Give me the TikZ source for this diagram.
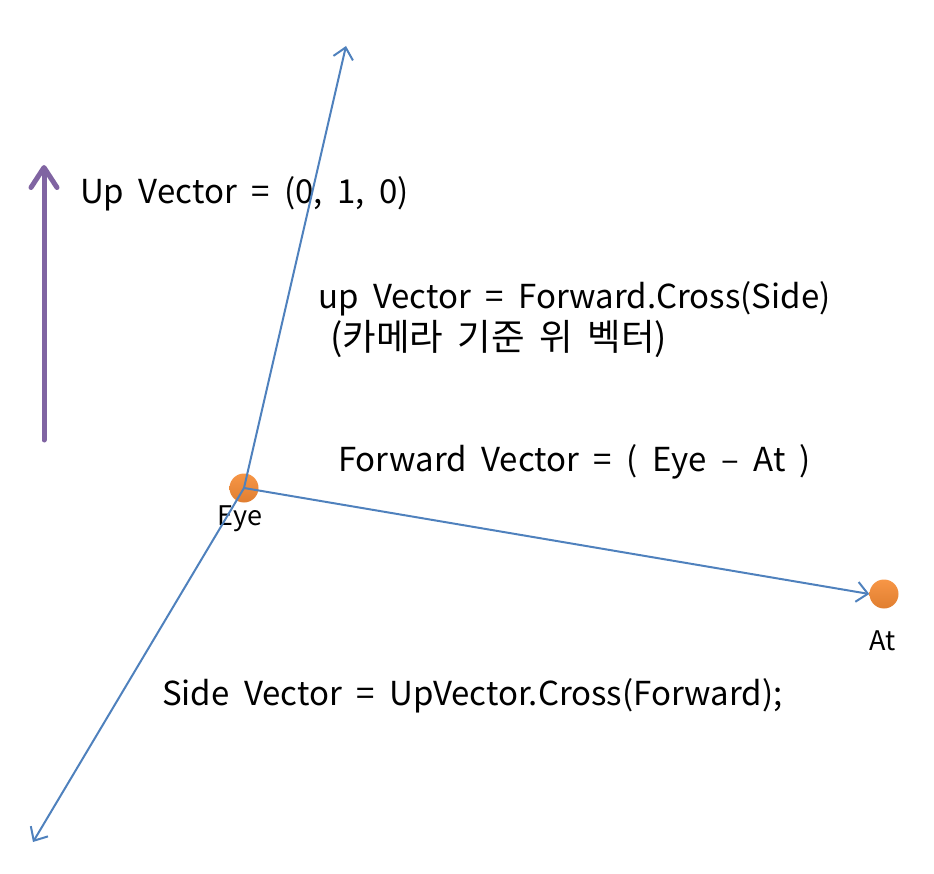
\documentclass[tikz,border=0pt]{standalone}
\usepackage{fontspec}
\setmainfont{Noto Sans CJK KR}
\usepackage{xcolor}
\usepackage{tikz}
\usetikzlibrary{calc}
\usetikzlibrary{arrows.meta}
\definecolor{vecblue}{HTML}{4F81BD}
\definecolor{vecpurple}{HTML}{8064A2}
\definecolor{dotorange}{HTML}{F79646}
\definecolor{dotdark}{HTML}{E07E30}
\newcommand{\bigsp}[1]{\fontsize{#1}{#1}\selectfont\spaceskip=14.5pt plus 1pt\relax}
\tikzset{
  axis/.style={line width=2pt, color=vecblue, -{Straight Barb[length=11pt, width=20pt, line width=2pt]}},
  dot/.style={circle, minimum size=29pt, inner sep=0pt, top color=dotorange, bottom color=dotdark, draw=none},
  lbl/.style={font=\bigsp{33}, anchor=base west, inner sep=0pt},
  kor/.style={font=\bigsp{36.5}, anchor=base west, inner sep=0pt},
  small/.style={font=\fontsize{27}{30}\selectfont, inner sep=0pt}
}
\begin{document}
\begin{tikzpicture}[x=1pt, y=-1pt]
    \useasboundingbox (0,0) rectangle (934,874);

    %WORLD UP
    \coordinate (upBase) at (44,440);
    \coordinate (upTip) at (44,165);
    \draw[line width=5pt, color=vecpurple, line cap=round, -{Straight Barb[length=20pt, width=26pt, line width=5pt, round]}] (upBase) -- (upTip);
    \node[lbl] (upText) at (80,204) {Up Vector = (0, 1, 0)};

    %TITIK
    \node[dot] (eye) at (244,488) {};
    \node[dot] (at) at (884,594) {};
    \node[small] (eyeLabel) at (240,519) {Eye};
    \node[small] (atLabel) at (883,641) {At};

    %SUMBU
    \coordinate (camUp) at (346,46);
    \coordinate (side) at (33,842);
    \draw[axis] (eye.center) -- (camUp);
    \draw[axis] (eye.center) -- (at.west);
    \draw[axis] (eye.center) -- (side);

    %TEKS
    \node[lbl] (camUpText) at (318,309) {up Vector = Forward.Cross(Side)};
    \node[kor] (camUpNote) at (330,351) {(카메라 기준 위 벡터)};
    \node[lbl] (fwdText) at (338,471) {Forward Vector = ( Eye – At )};
    \node[lbl] (sideText) at (162,705) {Side Vector = UpVector.Cross(Forward);};

\end{tikzpicture}
\end{document}
